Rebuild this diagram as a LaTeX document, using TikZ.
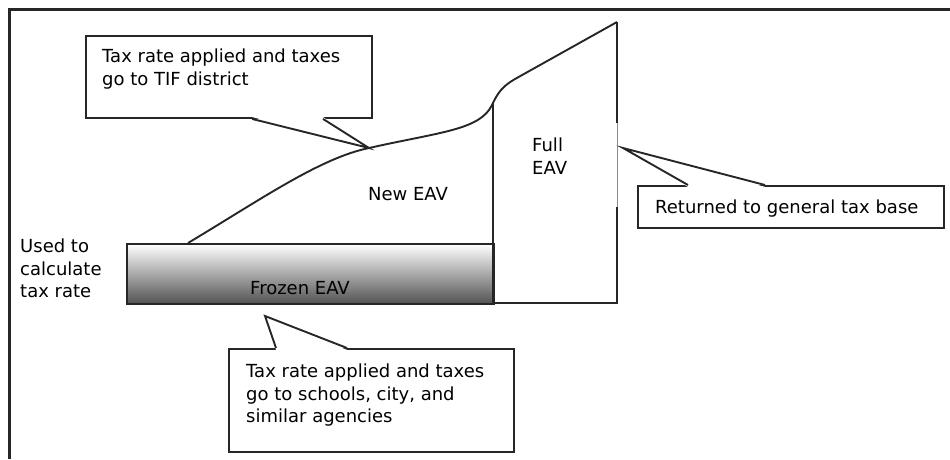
\documentclass[tikz,border=0pt]{standalone}
\usepackage{fontspec}
\setmainfont{DejaVu Sans}
\usepackage{tikz}
\tikzstyle{FrameLine}=[black!85,line width=3pt]
\tikzstyle{CalloutBox}=[draw=black!85,fill=white,line width=1.9pt,inner sep=0pt,
anchor=north west]
\tikzstyle{CalloutTail}=[draw=black!85,line width=1.9pt]
\tikzstyle{EavLine}=[black!85,line width=1.9pt]
\tikzstyle{FrozenBox}=[draw=black!85,line width=1.9pt,top color=white,middle color=black!25,
bottom color=black!68,inner sep=0pt,anchor=north west]
\tikzstyle{TextLabel}=[inner sep=0pt,align=left,font=\fontsize{18}{22.5}\selectfont]

\begin{document}
\begin{tikzpicture}[x=1pt,y=-1pt]
        \useasboundingbox (0,0) rectangle (950,459);
        \draw[FrameLine] (9,459) -- (9,9) -- (950,9);
        % callouts
        \coordinate (TifTip) at (369,148);
        \coordinate (BaseTip) at (623,148);
        \coordinate (SchoolTip) at (265,316);
        \node[CalloutBox,minimum width=286pt,minimum height=82pt](TifBox)at(85,35){};
        \node[CalloutBox,minimum width=306pt,minimum height=42pt](BaseBox)at(637,185){};
        \node[CalloutBox,minimum width=285pt,minimum height=103pt](SchoolBox)at(228,348){};
        \fill[white]([xshift=167pt,yshift=1.9pt]TifBox.south west)--(TifTip)
            --([xshift=238pt,yshift=1.9pt]TifBox.south west)--cycle;
        \draw[CalloutTail]([xshift=167pt]TifBox.south west)--(TifTip)
            --([xshift=238pt]TifBox.south west);
        \fill[white]([xshift=51pt,yshift=-1.9pt]BaseBox.north west)--(BaseTip)
            --([xshift=128pt,yshift=-1.9pt]BaseBox.north west)--cycle;
        \draw[CalloutTail]([xshift=51pt]BaseBox.north west)--(BaseTip)
            --([xshift=128pt]BaseBox.north west);
        \fill[white]([xshift=48pt,yshift=-1.9pt]SchoolBox.north west)--(SchoolTip)
            --([xshift=119pt,yshift=-1.9pt]SchoolBox.north west)--cycle;
        \draw[CalloutTail]([xshift=48pt]SchoolBox.north west)--(SchoolTip)
            --([xshift=119pt]SchoolBox.north west);
        % EAV blocks
        \node[FrozenBox,minimum width=367pt,minimum height=60pt](Frozen)at(126,243){};
        \draw[EavLine](493,102)--(493,303)--(617,303)--(617,207);
        \draw[EavLine](617,123)--(617,22);
        \draw[black!45,line width=0.9pt](617,123)--(617,207);
        \draw[EavLine](188,243) .. controls (260,200) and (320,158) .. (TifTip)
            .. controls (440,132) and (480,130) .. (492,105)
            .. controls (498,92) and (503,86) .. (515,79) -- (617,22);
        % texts
        \node[TextLabel,anchor=north west](TifText)at(102,49){Tax rate applied and taxes\\go to TIF district};
        \node[TextLabel,anchor=base](NewText)at(408,200){New EAV};
        \node[TextLabel,anchor=north west](FullText)at(532,138){Full\\EAV};
        \node[TextLabel,anchor=base](FrozenText)at(300,294){Frozen EAV};
        \node[TextLabel,anchor=north west](UsedText)at(20,239){Used to\\calculate\\tax rate};
        \node[TextLabel,anchor=base west](BaseText)at(655,213){Returned to general tax base};
        \node[TextLabel,anchor=north west](SchoolText)at(246,364){Tax rate applied and taxes\\go to schools, city, and\\similar agencies};
    \end{tikzpicture}
\end{document}
